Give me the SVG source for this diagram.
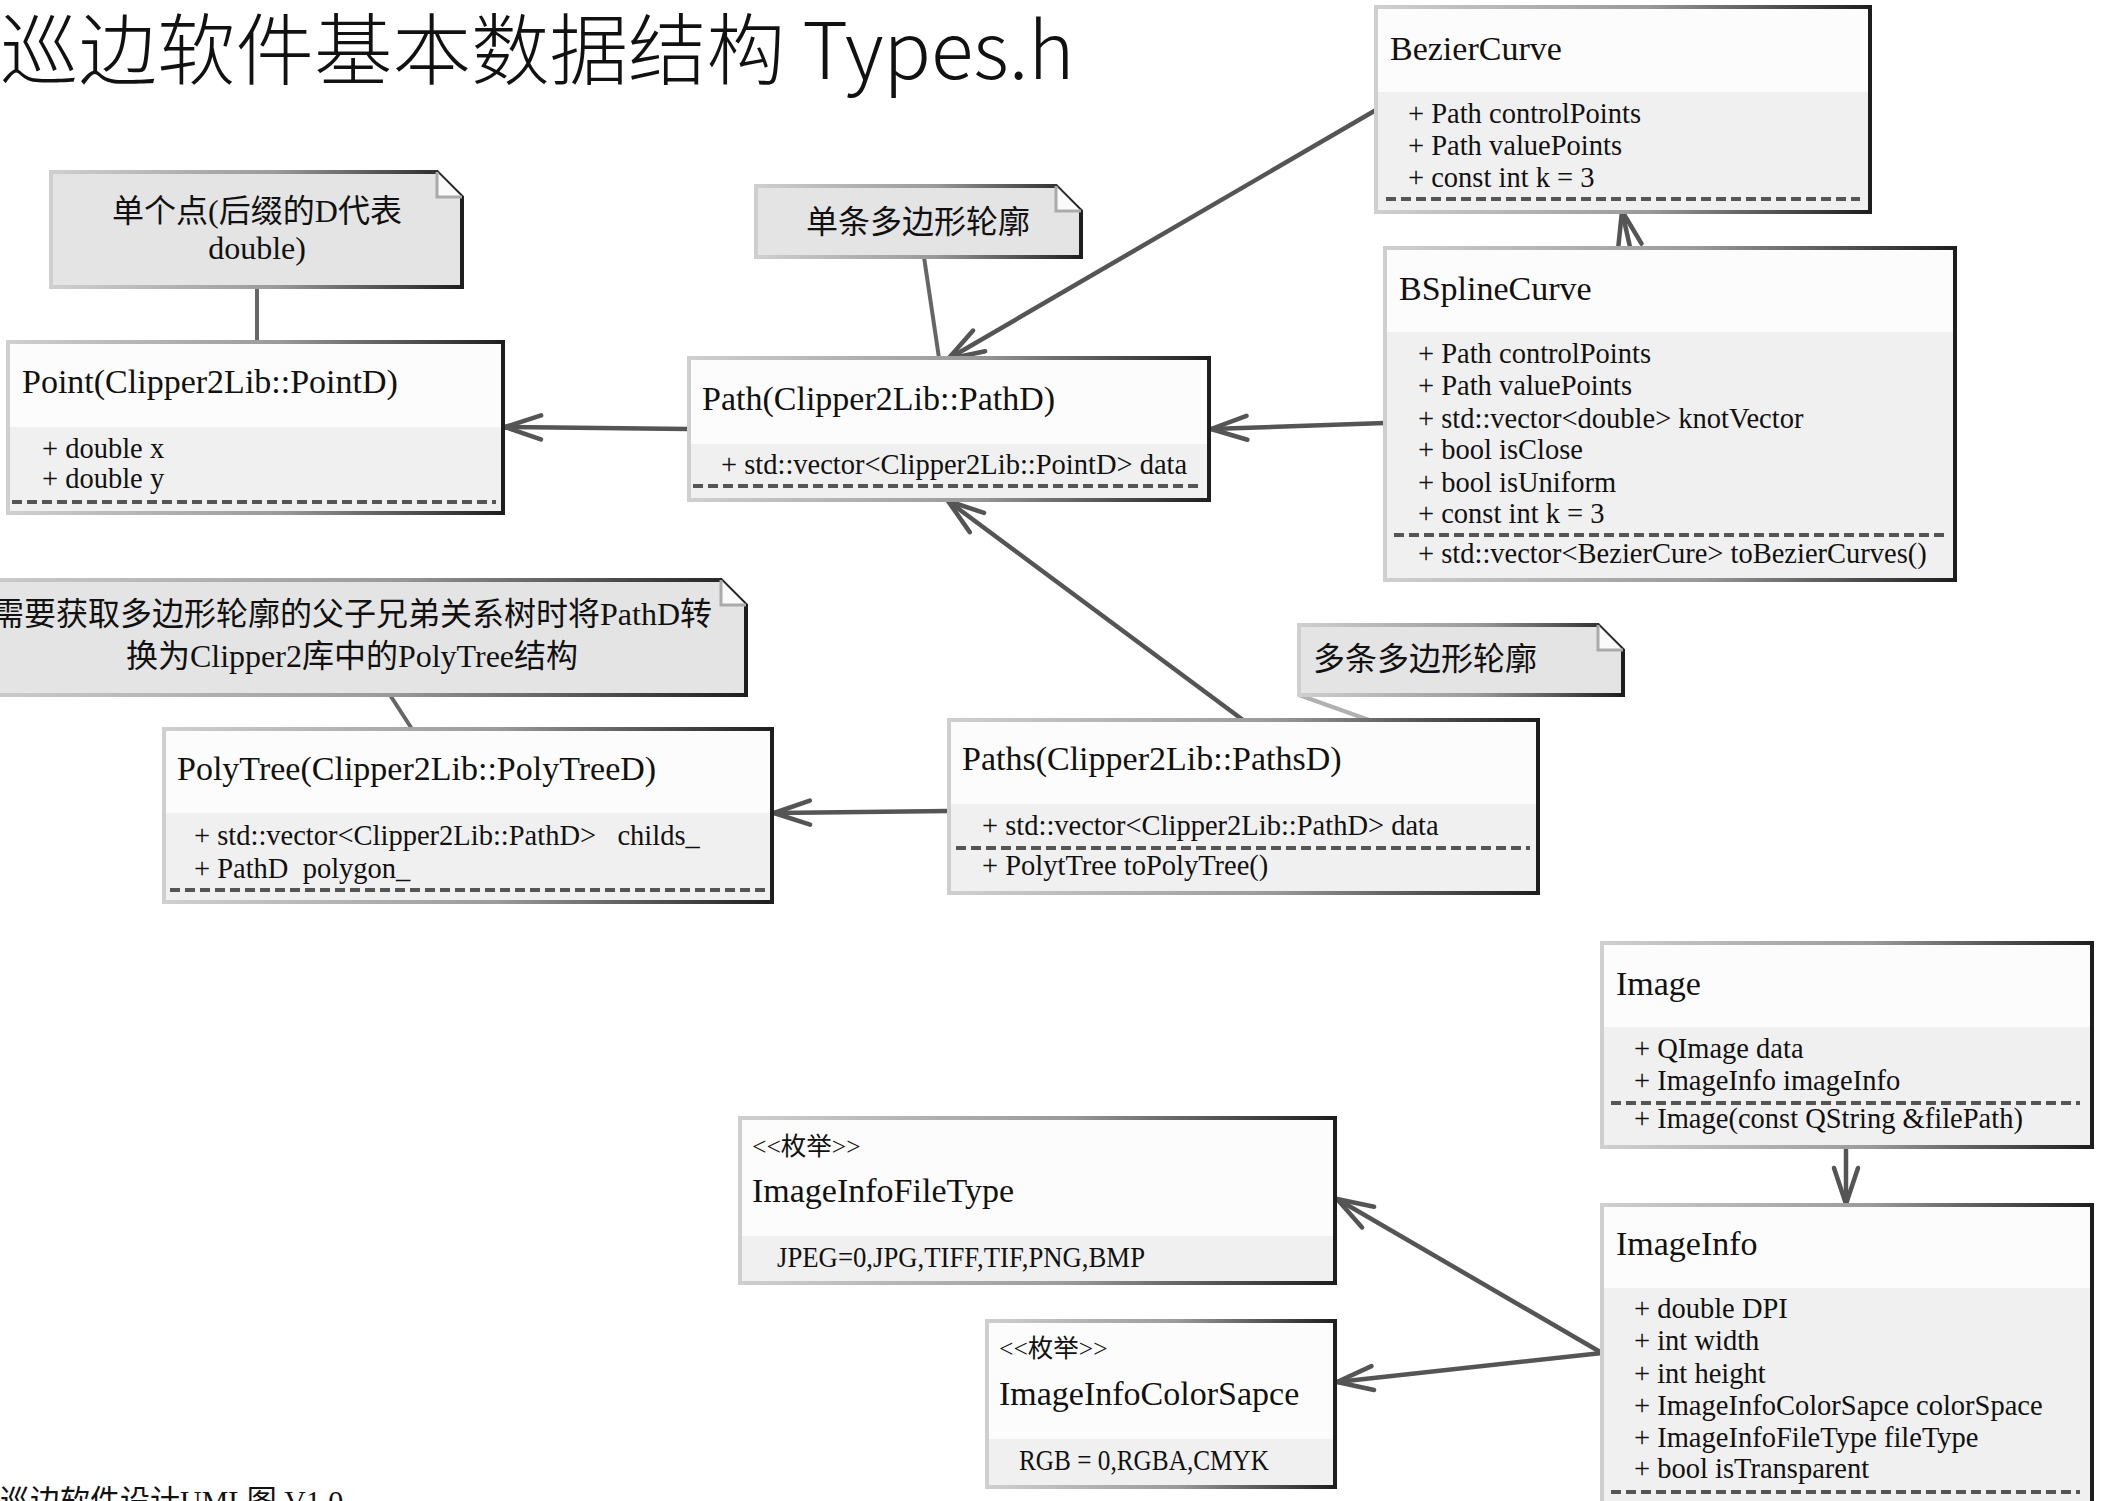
<svg xmlns="http://www.w3.org/2000/svg" width="2104" height="1501" viewBox="0 0 2104 1501">
<style>
.t{font-family:"Liberation Serif","Noto Sans CJK SC",serif;fill:#111}
.cn{font-size:34px}
.at{font-size:28.5px}
.st{font-size:25.5px}
.nt{font-size:32px}
.hd{fill:#fcfcfc}
.bd{fill:#f0f0f0}
.bx{fill:none;stroke:url(#edge);stroke-width:4}
.dv{stroke:url(#edge);stroke-width:4}
.ds{stroke:#555;stroke-width:4;stroke-dasharray:10 5}
.note{fill:#e4e4e4;stroke:url(#edge);stroke-width:4}
.fold{fill:#fafafa;stroke:#aaa;stroke-width:3}
.c{fill:none;stroke:#555;stroke-width:4.5}
.nc{fill:none;stroke:#666;stroke-width:4}
.ttl{font-family:"Noto Sans CJK SC","Noto Sans",sans-serif;font-size:78.5px;font-weight:300;fill:#111}
</style>
<defs>
<linearGradient id="edge" x1="0" y1="0" x2="1" y2="0">
<stop offset="0" stop-color="#cfcfcf"/>
<stop offset="0.55" stop-color="#9a9a9a"/>
<stop offset="1" stop-color="#1e1e1e"/>
</linearGradient>
<marker id="arr" markerWidth="50" markerHeight="40" refX="46" refY="20" orient="auto" markerUnits="userSpaceOnUse" viewBox="0 0 50 40">
<path d="M10,8 L46,20 L10,32" fill="none" stroke="#555" stroke-width="4.5" stroke-linecap="round" stroke-linejoin="round"/>
</marker>
</defs>
<rect width="2104" height="1501" fill="#fff"/>

<text class="ttl" x="0" y="79">巡边软件基本数据结构 Types.h</text>

<g id="connectors">
<line class="nc" x1="257" y1="287" x2="257" y2="342"/>
<line class="nc" x1="924" y1="257" x2="939" y2="358"/>
<line class="nc" x1="390" y1="695" x2="412" y2="729"/>
<line class="nc" x1="1299" y1="695" x2="1369" y2="720" style="stroke:#b0b0b0"/>
<line class="c" x1="689" y1="429" x2="505" y2="427" marker-end="url(#arr)"/>
<line class="c" x1="1376" y1="110" x2="948" y2="359" marker-end="url(#arr)"/>
<line class="c" x1="1385" y1="423" x2="1211" y2="429" marker-end="url(#arr)"/>
<line class="c" x1="1630" y1="247" x2="1622" y2="211" marker-end="url(#arr)"/>
<line class="c" x1="1243" y1="720" x2="948" y2="501" marker-end="url(#arr)"/>
<line class="c" x1="949" y1="811" x2="774" y2="813" marker-end="url(#arr)"/>
<line class="c" x1="1846" y1="1147" x2="1846" y2="1204" marker-end="url(#arr)"/>
<line class="c" x1="1602" y1="1353" x2="1337" y2="1199" marker-end="url(#arr)"/>
<line class="c" x1="1602" y1="1353" x2="1337" y2="1382" marker-end="url(#arr)"/>
</g>

<g id="note-point">
<path class="note" d="M51,172 H437 L462,197 V287 H51 Z"/>
<path class="fold" d="M437,172 V197 H462"/>
<text class="t nt" x="257" y="222" text-anchor="middle">单个点(后缀的D代表</text>
<text class="t nt" x="257" y="259" text-anchor="middle">double)</text>
</g>

<g id="note-path">
<path class="note" d="M756,186 H1056 L1081,211 V257 H756 Z"/>
<path class="fold" d="M1056,186 V211 H1081"/>
<text class="t nt" x="918" y="233" text-anchor="middle">单条多边形轮廓</text>
</g>

<g id="note-polytree">
<path class="note" d="M-42,580 H721 L746,605 V695 H-42 Z"/>
<path class="fold" d="M721,580 V605 H746"/>
<text class="t nt" x="352" y="625" text-anchor="middle">需要获取多边形轮廓的父子兄弟关系树时将PathD转</text>
<text class="t nt" x="352" y="667" text-anchor="middle">换为Clipper2库中的PolyTree结构</text>
</g>

<g id="note-paths">
<path class="note" d="M1299,625 H1598 L1623,650 V695 H1299 Z"/>
<path class="fold" d="M1598,625 V650 H1623"/>
<text class="t nt" x="1313" y="670">多条多边形轮廓</text>
</g>

<g id="Point">
<rect class="hd" x="8" y="342" width="495" height="85"/>
<rect class="bd" x="8" y="427" width="495" height="86"/>
<line class="dv" x1="8" y1="427" x2="503" y2="427"/>
<rect class="bx" x="8" y="342" width="495" height="171"/>
<text class="t cn" x="22" y="393">Point(Clipper2Lib::PointD)</text>
<text class="t at" x="42" y="458">+ double x</text>
<text class="t at" x="42" y="488">+ double y</text>
<line class="ds" x1="12" y1="502" x2="496" y2="502"/>
</g>

<g id="Path">
<rect class="hd" x="689" y="358" width="520" height="86"/>
<rect class="bd" x="689" y="444" width="520" height="56"/>
<line class="dv" x1="689" y1="444" x2="1209" y2="444"/>
<rect class="bx" x="689" y="358" width="520" height="142"/>
<text class="t cn" x="702" y="410">Path(Clipper2Lib::PathD)</text>
<text class="t at" x="721" y="474">+ std::vector&lt;Clipper2Lib::PointD&gt; data</text>
<line class="ds" x1="693" y1="486" x2="1202" y2="486"/>
</g>

<g id="BezierCurve">
<rect class="hd" x="1376" y="7" width="494" height="85"/>
<rect class="bd" x="1376" y="92" width="494" height="120"/>
<line class="dv" x1="1376" y1="92" x2="1870" y2="92"/>
<rect class="bx" x="1376" y="7" width="494" height="205"/>
<text class="t cn" x="1390" y="60">BezierCurve</text>
<text class="t at" x="1408" y="123">+ Path controlPoints</text>
<text class="t at" x="1408" y="155">+ Path valuePoints</text>
<text class="t at" x="1408" y="187">+ const int k = 3</text>
<line class="ds" x1="1386" y1="199" x2="1860" y2="199"/>
</g>

<g id="BSplineCurve">
<rect class="hd" x="1385" y="248" width="570" height="84"/>
<rect class="bd" x="1385" y="332" width="570" height="248"/>
<line class="dv" x1="1385" y1="332" x2="1955" y2="332"/>
<rect class="bx" x="1385" y="248" width="570" height="332"/>
<text class="t cn" x="1399" y="300">BSplineCurve</text>
<text class="t at" x="1418" y="363">+ Path controlPoints</text>
<text class="t at" x="1418" y="395">+ Path valuePoints</text>
<text class="t at" x="1418" y="428">+ std::vector&lt;double&gt; knotVector</text>
<text class="t at" x="1418" y="459">+ bool isClose</text>
<text class="t at" x="1418" y="492">+ bool isUniform</text>
<text class="t at" x="1418" y="523">+ const int k = 3</text>
<line class="ds" x1="1394" y1="535" x2="1948" y2="535"/>
<text class="t at" x="1418" y="563">+ std::vector&lt;BezierCure&gt; toBezierCurves()</text>
</g>

<g id="PolyTree">
<rect class="hd" x="164" y="729" width="608" height="84"/>
<rect class="bd" x="164" y="813" width="608" height="89"/>
<line class="dv" x1="164" y1="813" x2="772" y2="813"/>
<rect class="bx" x="164" y="729" width="608" height="173"/>
<text class="t cn" x="177" y="780">PolyTree(Clipper2Lib::PolyTreeD)</text>
<text class="t at" x="194" y="845" xml:space="preserve">+ std::vector&lt;Clipper2Lib::PathD&gt;   childs_</text>
<text class="t at" x="194" y="878" xml:space="preserve">+ PathD  polygon_</text>
<line class="ds" x1="170" y1="890" x2="766" y2="890"/>
</g>

<g id="Paths">
<rect class="hd" x="949" y="720" width="589" height="84"/>
<rect class="bd" x="949" y="804" width="589" height="89"/>
<line class="dv" x1="949" y1="804" x2="1538" y2="804"/>
<rect class="bx" x="949" y="720" width="589" height="173"/>
<text class="t cn" x="962" y="770">Paths(Clipper2Lib::PathsD)</text>
<text class="t at" x="982" y="835">+ std::vector&lt;Clipper2Lib::PathD&gt; data</text>
<line class="ds" x1="956" y1="848" x2="1530" y2="848"/>
<text class="t at" x="982" y="875">+ PolytTree toPolyTree()</text>
</g>

<g id="Image">
<rect class="hd" x="1602" y="943" width="490" height="84"/>
<rect class="bd" x="1602" y="1027" width="490" height="120"/>
<line class="dv" x1="1602" y1="1027" x2="2092" y2="1027"/>
<rect class="bx" x="1602" y="943" width="490" height="204"/>
<text class="t cn" x="1616" y="995">Image</text>
<text class="t at" x="1634" y="1058">+ QImage data</text>
<text class="t at" x="1634" y="1090">+ ImageInfo imageInfo</text>
<line class="ds" x1="1611" y1="1103" x2="2080" y2="1103"/>
<text class="t at" x="1634" y="1128">+ Image(const QString &amp;filePath)</text>
</g>

<g id="ImageInfo">
<rect class="hd" x="1602" y="1205" width="490" height="83"/>
<rect class="bd" x="1602" y="1288" width="490" height="240"/>
<line class="dv" x1="1602" y1="1288" x2="2092" y2="1288"/>
<rect class="bx" x="1602" y="1205" width="490" height="323"/>
<text class="t cn" x="1616" y="1255">ImageInfo</text>
<text class="t at" x="1634" y="1318">+ double DPI</text>
<text class="t at" x="1634" y="1350">+ int width</text>
<text class="t at" x="1634" y="1383">+ int height</text>
<text class="t at" x="1634" y="1415">+ ImageInfoColorSapce colorSpace</text>
<text class="t at" x="1634" y="1447">+ ImageInfoFileType fileType</text>
<text class="t at" x="1634" y="1478">+ bool isTransparent</text>
<line class="ds" x1="1611" y1="1492" x2="2080" y2="1492"/>
</g>

<g id="ImageInfoFileType">
<rect class="hd" x="740" y="1118" width="595" height="118"/>
<rect class="bd" x="740" y="1236" width="595" height="47"/>
<line class="dv" x1="740" y1="1236" x2="1335" y2="1236"/>
<rect class="bx" x="740" y="1118" width="595" height="165"/>
<text class="t st" x="752" y="1155">&lt;&lt;枚举&gt;&gt;</text>
<text class="t cn" x="752" y="1202">ImageInfoFileType</text>
<text class="t at" x="777" y="1267" textLength="368" lengthAdjust="spacingAndGlyphs">JPEG=0,JPG,TIFF,TIF,PNG,BMP</text>
</g>

<g id="ImageInfoColorSapce">
<rect class="hd" x="987" y="1321" width="348" height="118"/>
<rect class="bd" x="987" y="1439" width="348" height="48"/>
<line class="dv" x1="987" y1="1439" x2="1335" y2="1439"/>
<rect class="bx" x="987" y="1321" width="348" height="166"/>
<text class="t st" x="999" y="1357">&lt;&lt;枚举&gt;&gt;</text>
<text class="t cn" x="999" y="1405">ImageInfoColorSapce</text>
<text class="t at" x="1019" y="1470" textLength="250" lengthAdjust="spacingAndGlyphs">RGB = 0,RGBA,CMYK</text>
</g>

<text class="t" x="0" y="1511" style="font-size:30px">巡边软件设计UML图 V1.0</text>
</svg>
